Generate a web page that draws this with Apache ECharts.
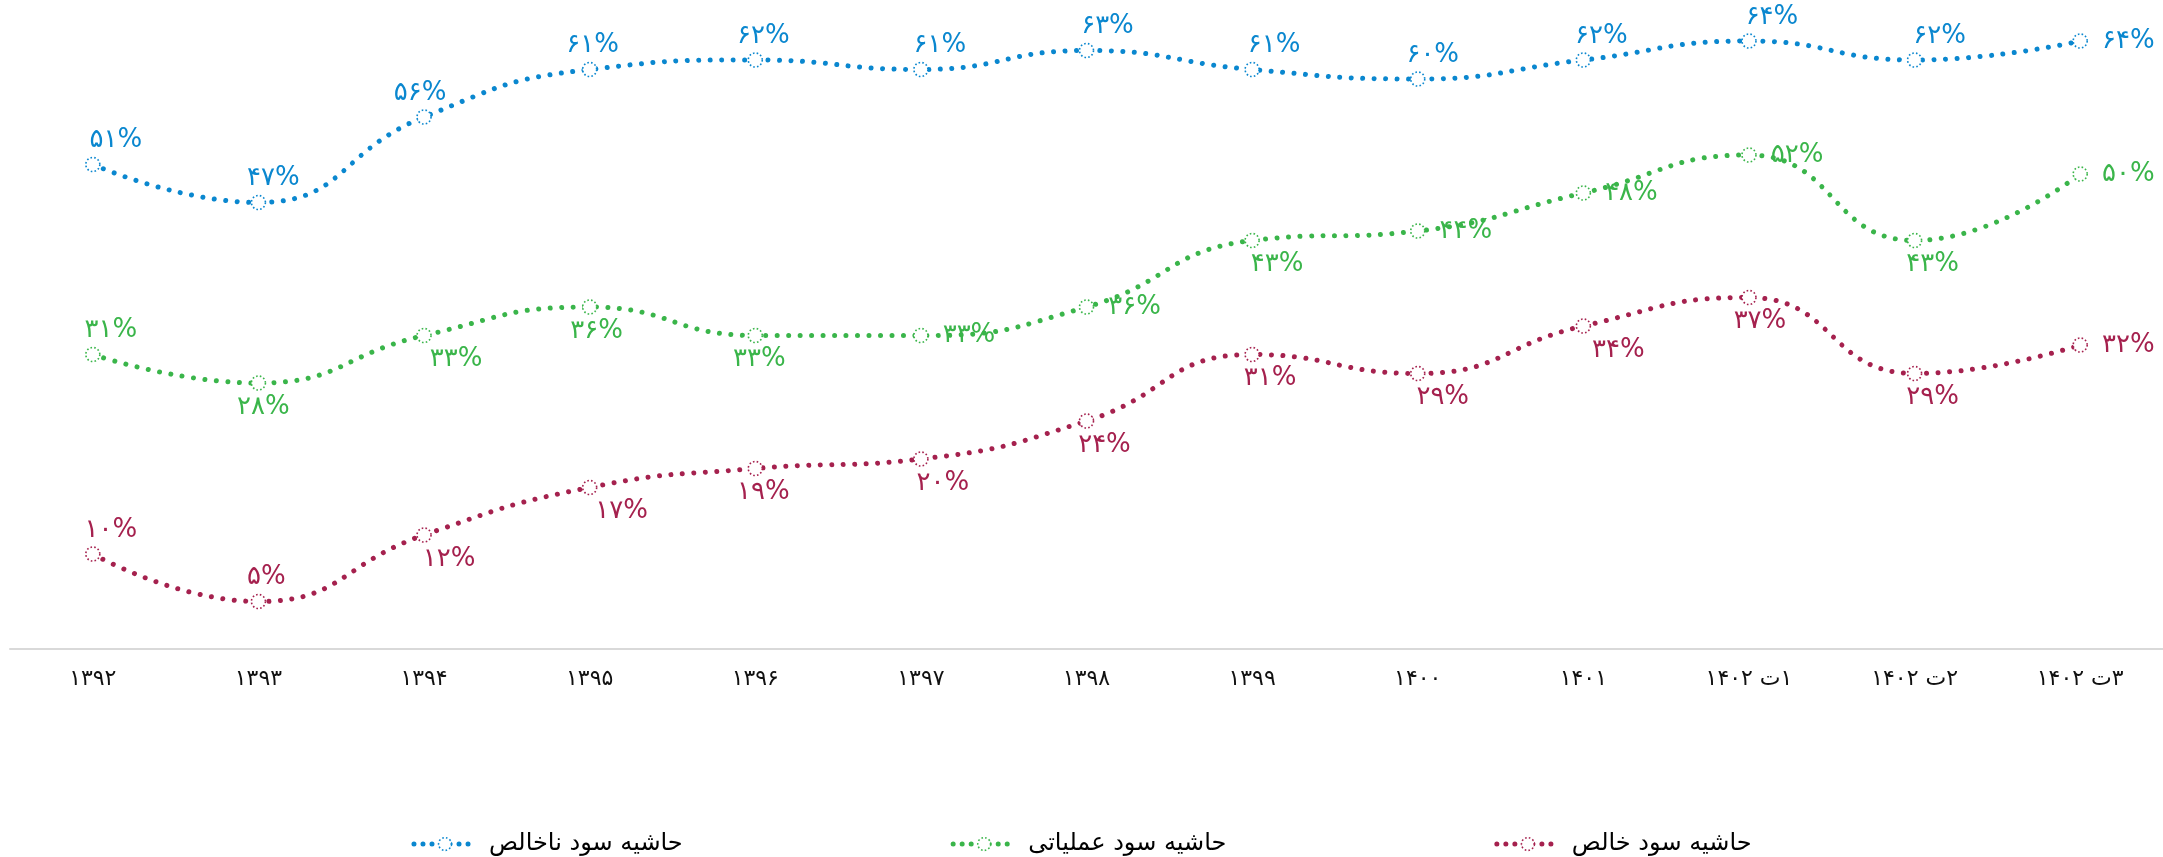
<!DOCTYPE html>
<html>
<head>
<meta charset="utf-8">
<script src="https://cdn.jsdelivr.net/npm/echarts@6/dist/echarts.min.js"></script>
<style>
  html, body { margin: 0; padding: 0; background: #fff; }
  #chart { width: 2163px; height: 857px; }
</style>
</head>
<body>
<div id="chart"></div>
<script>
// Fiscal periods (Solar Hijri years, then 1402 quarters)
const categories = [
  '۱۳۹۲', '۱۳۹۳', '۱۳۹۴', '۱۳۹۵', '۱۳۹۶', '۱۳۹۷', '۱۳۹۸', '۱۳۹۹', '۱۴۰۰', '۱۴۰۱',
  '۱۴۰۲ ت۱', '۱۴۰۲ ت۲', '۱۴۰۲ ت۳'
];

// Margins, percent
const grossMargin     = [51, 47, 56, 61, 62, 61, 63, 61, 60, 62, 64, 62, 64];
const operatingMargin = [31, 28, 33, 36, 33, 33, 36, 43, 44, 48, 52, 43, 50];
const netMargin       = [10, 5, 12, 17, 19, 20, 24, 31, 29, 34, 37, 29, 32];

const seriesNames = ['حاشیه سود ناخالص', 'حاشیه سود عملیاتی', 'حاشیه سود خالص'];

// Label placement for each point
const grossLabelPos = ['top', 'top', 'top', 'top', 'top', 'top', 'top', 'top', 'top', 'top', 'top', 'top', 'right'];
const operLabelPos  = ['top', 'bottom', 'bottom', 'bottom', 'bottom', 'right', 'right', 'bottom', 'right', 'right', 'right', 'bottom', 'right'];
const netLabelPos   = ['top', 'top', 'bottom', 'bottom', 'bottom', 'bottom', 'bottom', 'bottom', 'bottom', 'bottom', 'bottom', 'bottom', 'right'];

// Horizontal nudges of the labels, px
const grossLabelDx = [23, 15, -4, 3, 8, 19, 21, 22, 15, 18, 23, 25, 0];
const operLabelDx  = [18, 5, 32, 7, 4, 0, 0, 25, 0, 0, 0, 18, 0];
const netLabelDx   = [18, 8, 25, 32, 8, 22, 18, 18, 25, 35, 11, 18, 0];

const colors = ['#0a87cf', '#3ab54a', '#a5214e'];
const FONT = 'DejaVu Sans';

const faDigits = '۰۱۲۳۴۵۶۷۸۹';
function toFa(n) {
  return String(n).replace(/[0-9]/g, d => faDigits[+d]);
}

// Quarter labels: year and the letter as one piece, the quarter digit after it,
// so the digit always sits to the right of the letter.
function axisLabelText(s) {
  const m = s.match(/^(\S+) ت(\S+)$/);
  if (!m) return s;
  return '{a|' + m[1] + ' ت\u200D}{a|' + m[2] + '}';
}

function makeSeries(name, values, pos, dx, color) {
  return {
    name: name,
    type: 'line',
    smooth: 0.5,
    symbol: 'circle',
    symbolSize: 14,
    showSymbol: true,
    lineStyle: { color: color, width: 5, type: [0.01, 11.5], cap: 'round' },
    itemStyle: { color: '#ffffff', borderColor: color, borderWidth: 1.6, borderType: [1.6, 2.2] },
    label: {
      show: true,
      color: color,
      fontFamily: FONT,
      fontSize: 26,
      formatter: p => toFa(p.value) + '%'
    },
    data: values.map((v, i) => ({
      value: v,
      label: {
        position: pos[i],
        distance: pos[i] === 'right' ? 14 : 3,
        offset: [dx[i], 0]
      }
    })),
    emphasis: { disabled: true },
    z: 2
  };
}

const chart = echarts.init(document.getElementById('chart'), null, { renderer: 'canvas' });
chart.setOption({
  animation: false,
  backgroundColor: '#ffffff',
  color: colors,
  grid: { left: 10, right: 0, top: 3, bottom: 208, containLabel: false },
  legend: {
    top: 827,
    left: 'center',
    itemWidth: 62,
    itemHeight: 16,
    itemGap: 268,
    lineStyle: { width: 5, type: [0.01, 9], cap: 'round' },
    itemStyle: { color: '#ffffff', borderWidth: 1.6, borderType: [1.6, 2.2] },
    textStyle: { fontFamily: FONT, fontSize: 24, color: '#000', padding: [0, 0, 0, 8] },
    data: seriesNames
  },
  xAxis: {
    type: 'category',
    data: categories,
    boundaryGap: true,
    axisLine: { show: true, lineStyle: { color: '#d9d9d9', width: 2 } },
    axisTick: { show: false },
    axisLabel: {
      color: '#111', fontFamily: FONT, fontSize: 22, margin: 19, interval: 0,
      formatter: axisLabelText,
      rich: { a: { color: '#111', fontFamily: FONT, fontSize: 22 } }
    },
    splitLine: { show: false }
  },
  yAxis: {
    type: 'value',
    min: 0,
    max: 68,
    show: false,
    splitLine: { show: false }
  },
  series: [
    makeSeries(seriesNames[0], grossMargin, grossLabelPos, grossLabelDx, colors[0]),
    makeSeries(seriesNames[1], operatingMargin, operLabelPos, operLabelDx, colors[1]),
    makeSeries(seriesNames[2], netMargin, netLabelPos, netLabelDx, colors[2])
  ]
});
</script>
</body>
</html>
